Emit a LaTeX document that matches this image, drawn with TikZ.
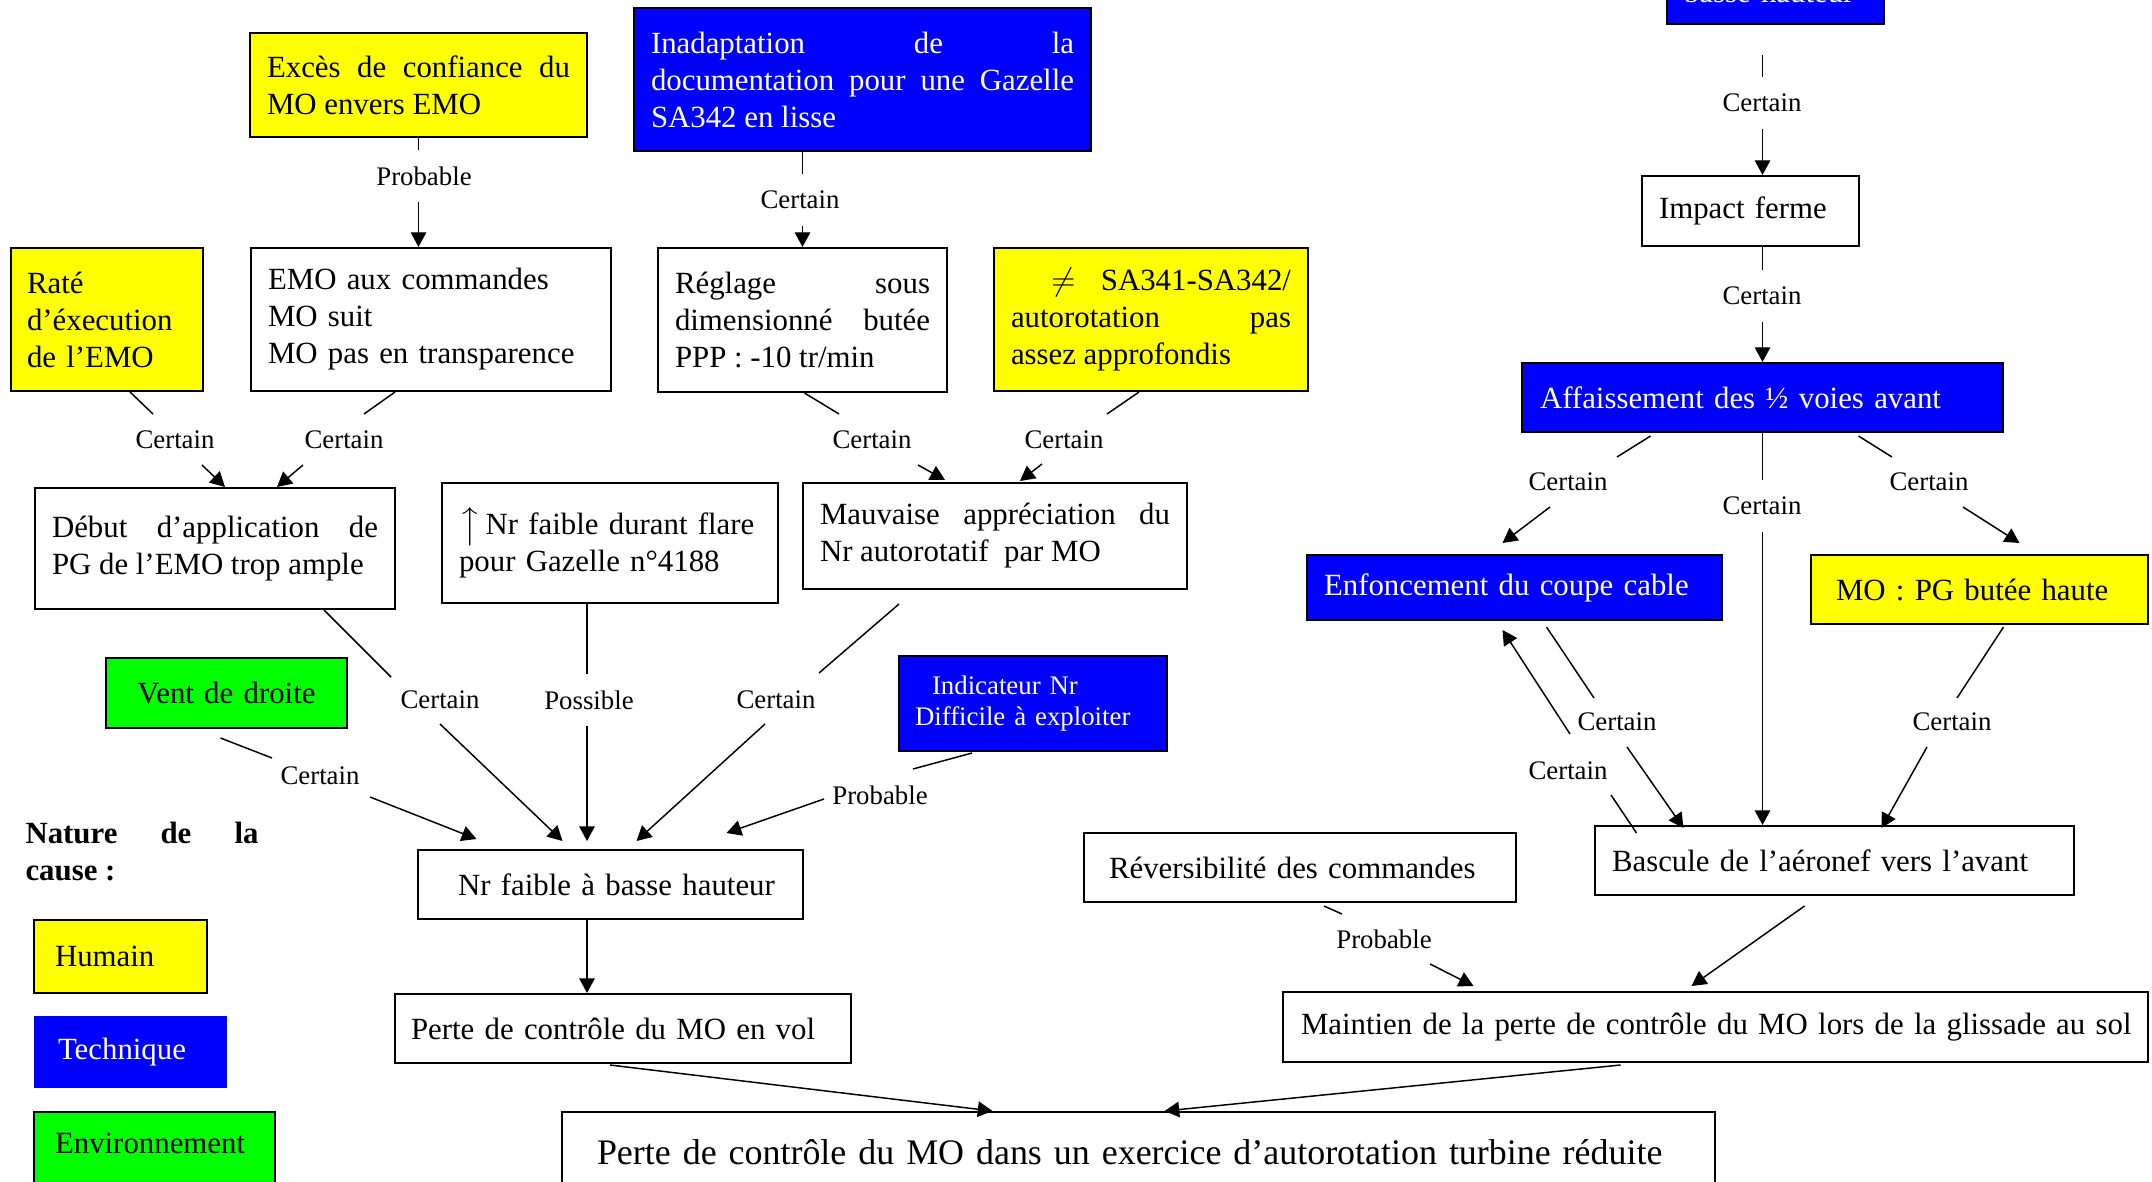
\documentclass[tikz,border=0pt]{standalone}
\usepackage{fontspec}
\setmainfont{Liberation Serif}
\usepackage{amsmath}
\usetikzlibrary{arrows.meta, calc}
\definecolor{CauseHuman}{RGB}{255,255,0}
\definecolor{CauseTech}{RGB}{0,0,255}
\definecolor{CauseEnv}{RGB}{0,255,0}
\newdimen\pxu \pxu=0.373pt
\hyphenpenalty=10000
\exhyphenpenalty=10000
\newcommand{\boxtxt}{\fontsize{11.5pt}{13.8pt}\selectfont}
\newcommand{\lbltxt}{\fontsize{10pt}{11.5pt}\selectfont}
\newcommand{\bigtxt}{\fontsize{13.4pt}{16pt}\selectfont}
\tikzset{
  causebox/.style={draw, line width=0.75pt, anchor=north west, inner ysep=0pt, font=\boxtxt, align=left},
  human/.style={causebox, fill=CauseHuman},
  tech/.style={causebox, fill=CauseTech, text=white},
  env/.style={causebox, fill=CauseEnv},
  lbl/.style={font=\lbltxt, inner xsep=2pt, inner ysep=6pt},
  link/.style={line width=0.55pt},
  arr/.style={link, -{Triangle[length=5.5pt, width=5.8pt]}}
}

\begin{document}
\begin{tikzpicture}[x=0.373pt, y=-0.373pt]
\useasboundingbox (0,0) rectangle (2152,1182);
\fill[white] (0,0) rectangle (2152,1182);
\clip (0,0) rectangle (2152,1182);

% Causes (left tree)
\node[human, text width=303\pxu, inner xsep=17\pxu, minimum height=104\pxu, align=justify] (exces) at (249,32) {Excès de confiance du\linebreak MO envers EMO};
\node[tech, text width=423\pxu, inner xsep=17\pxu, minimum height=143\pxu, align=justify] (inadapt) at (633,7) {Inadaptation de la\linebreak documentation pour une Gazelle\linebreak SA342 en lisse};
\node[human, text width=160\pxu, inner xsep=16\pxu, minimum height=143\pxu] (rate) at (10,247) {Raté\\d’éxecution\\de l’EMO};
\node[causebox, text width=326\pxu, inner xsep=17\pxu, minimum height=143\pxu] (emo) at (250,247) {EMO aux commandes\\MO suit\\MO pas en transparence};
\node[causebox, text width=255\pxu, inner xsep=17\pxu, minimum height=144\pxu, align=justify] (reglage) at (657,247) {Réglage sous\linebreak dimensionné butée\linebreak PPP : -10 tr/min};
\node[human, text width=280\pxu, inner xsep=17\pxu, minimum height=143\pxu, align=justify] (diff) at (993,247) {\hspace*{15pt}$\neq$\hfill SA341-SA342/\\autorotation\hfill pas\\assez approfondis};
\node[causebox, text width=326\pxu, inner xsep=17\pxu, minimum height=121\pxu, align=justify] (debut) at (34,487) {Début d’application de\linebreak PG de l’EMO trop ample};
\node[causebox, text width=302\pxu, inner xsep=17\pxu, minimum height=120\pxu] (nrflare) at (441,482) {$\big\uparrow$\,Nr faible durant flare\\pour Gazelle n°4188};
\node[causebox, text width=350\pxu, inner xsep=17\pxu, minimum height=106\pxu, align=justify] (mauvaise) at (802,482) {Mauvaise appréciation du\linebreak Nr autorotatif\ \ par MO};
\node[env, text width=207\pxu, inner xsep=17\pxu, minimum height=70\pxu, align=center] (vent) at (105,657) {Vent de droite};
\node[tech, font=\lbltxt, text width=236\pxu, inner xsep=16\pxu, minimum height=95\pxu] (indic) at (898,655) {\hspace*{17\pxu}Indicateur Nr\\Difficile à exploiter};
\node[causebox, text width=351\pxu, inner xsep=17\pxu, minimum height=69\pxu, align=center] (nrbasse) at (417,849) {\hspace*{12\pxu}Nr faible à basse hauteur};
\node[causebox, text width=424\pxu, inner xsep=16\pxu, minimum height=69\pxu] (pertevol) at (394,993) {Perte de contrôle du MO en vol};
\node[causebox, font=\bigtxt, text width=1093\pxu, inner xsep=30\pxu, minimum height=80\pxu] (final) at (561,1111) {\hspace*{5\pxu}Perte de contrôle du MO dans un exercice d’autorotation turbine réduite};

% Legend
\node[anchor=north west, inner sep=0pt, text width=233\pxu, align=justify, font=\boxtxt\bfseries] (nature) at (25,822) {Nature de la\linebreak cause :};
\node[human, text width=131\pxu, inner xsep=21\pxu, minimum height=73\pxu] (humain) at (33,919) {Humain};
\node[tech, draw=none, text width=145\pxu, inner xsep=24\pxu, minimum height=72\pxu] (technique) at (33,1015) {Technique};
\node[env, text width=199\pxu, inner xsep=21\pxu, text height=41\pxu, text depth=45\pxu] (environ) at (33,1111) {Environnement};

% Right tree
\node[tech, anchor=south west, text width=183\pxu, inner xsep=17\pxu, text height=64\pxu, text depth=21\pxu] (topbox) at (1666,25) {basse hauteur};
\node[causebox, text width=183\pxu, inner xsep=17\pxu, minimum height=70\pxu] (impact) at (1641,175) {Impact ferme};
\node[tech, text width=445\pxu, inner xsep=18\pxu, minimum height=69\pxu] (affaiss) at (1521,362) {Affaissement des ½ voies avant};
\node[tech, text width=381\pxu, inner xsep=17\pxu, minimum height=65\pxu] (enfonc) at (1306,554) {Enfoncement du coupe cable};
\node[human, text width=287\pxu, inner xsep=25\pxu, minimum height=69\pxu] (mopg) at (1810,554) {MO : PG butée haute};
\node[causebox, text width=445\pxu, inner xsep=17\pxu, minimum height=69\pxu] (bascule) at (1594,825) {Bascule de l’aéronef vers l’avant};
\node[causebox, text width=392\pxu, inner xsep=20\pxu, minimum height=69\pxu] (reversib) at (1083,832) {\hspace*{5\pxu}Réversibilité des commandes};
\node[causebox, text width=839\pxu, inner xsep=13\pxu, minimum height=70\pxu] (maintien) at (1282,991) {\hspace*{5\pxu}Maintien de la perte de contrôle du MO lors de la glissade au sol};

% Link labels
\node[lbl] (lA) at (424,176) {Probable};
\node[lbl] (lB) at (800,200) {Certain};
\node[lbl] (lC) at (175,440) {Certain};
\node[lbl] (lD) at (344,440) {Certain};
\node[lbl] (lE) at (872,440) {Certain};
\node[lbl] (lF) at (1064,440) {Certain};
\node[lbl] (lG) at (440,700) {Certain};
\node[lbl] (lH) at (589,700) {Possible};
\node[lbl] (lI) at (776,700) {Certain};
\node[lbl] (lJ) at (320,776) {Certain};
\node[lbl] (lK) at (880,795) {Probable};
\node[lbl] (lL) at (1384,939) {Probable};
\node[lbl] (lM) at (1762,103) {Certain};
\node[lbl] (lN) at (1762,296) {Certain};
\node[lbl] (lO) at (1568,482) {Certain};
\node[lbl] (lP) at (1762,506) {Certain};
\node[lbl] (lQ) at (1929,482) {Certain};
\node[lbl] (lR) at (1617,722) {Certain};
\node[lbl] (lS) at (1568,771) {Certain};
\node[lbl] (lT) at (1952,722) {Certain};

% Links, left tree
\draw[link] (exces.south) -- (exces.south |- lA.north);
\draw[arr] (exces.south |- lA.south) -- (exces.south |- emo.north);
\draw[link] (reglage.north |- inadapt.south) -- (reglage.north |- lB.north);
\draw[arr] (reglage.north |- lB.south) -- (reglage.north);
\draw[link] ($(rate.south)+(23,0)$) -- ($(lC)+(-22,-26)$);
\draw[arr] ($(lC)+(27,25)$) -- ($(debut.north)+(10,0)$);
\draw[link] ($(emo.south)+(-36,0)$) -- ($(lD)+(20,-26)$);
\draw[arr] ($(lD)+(-41,25)$) -- ($(debut.north)+(62,0)$);
\draw[link] ($(reglage.south)+(2,0)$) -- ($(lE)+(-33,-26)$);
\draw[arr] ($(lE)+(46,25)$) -- ($(mauvaise.north)+(-50,-2)$);
\draw[link] ($(diff.south)+(-12,0)$) -- ($(lF)+(43,-26)$);
\draw[arr] ($(lF)+(-22,24)$) -- ($(mauvaise.north)+(25,-1)$);
\draw[link] ($(debut.south)+(109,0)$) -- ($(lG)+(-49,-23)$);
\draw[arr] ($(lG)+(0,24)$) -- ($(nrbasse.north)+(-48,-8)$);
\draw[link] ($(nrflare.south)+(-23,0)$) coordinate (nrx) -- (nrx |- lH.north);
\draw[arr] (nrx |- lH.south) -- ($(nrx |- nrbasse.north)+(0,-8)$);
\draw[link] ($(mauvaise.south)+(-96,14)$) -- ($(lI)+(43,-27)$);
\draw[arr] ($(lI)+(-11,24)$) -- ($(nrbasse.north)+(26,-8)$);
\draw[link] ($(vent.south)+(-6,9)$) -- ($(lJ)+(-48,-18)$);
\draw[arr] ($(lJ)+(50,21)$) -- ($(nrbasse.north)+(-134,-10)$);
\draw[link] ($(indic.south)+(-61,1)$) -- ($(lK)+(33,-26)$);
\draw[arr] ($(lK)+(-56,4)$) -- ($(nrbasse.north)+(116,-16)$);
\draw[arr] (nrx |- nrbasse.south) -- (nrx |- pertevol.north);
\draw[arr] ($(pertevol.south)+(-13,1)$) -- ($(final.north)+(-146,0)$);

% Links, right tree
\draw[link] ($(affaiss.north |- topbox.south)+(0,30)$) -- (affaiss.north |- lM.north);
\draw[arr] (affaiss.north |- lM.south) -- (affaiss.north |- impact.north);
\draw[link] (affaiss.north |- impact.south) -- (affaiss.north |- lN.north);
\draw[arr] (affaiss.north |- lN.south) -- (affaiss.north);
\draw[link] (affaiss.south) -- (affaiss.south |- lP.north);
\draw[arr] (affaiss.south |- lP.south) -- (affaiss.south |- bascule.north);
\draw[link] ($(affaiss.south)+(-112,3)$) -- ($(lO)+(49,-25)$);
\draw[arr] ($(lO)+(-18,25)$) -- ($(enfonc.north)+(-12,-11)$);
\draw[link] ($(affaiss.south)+(96,3)$) -- ($(lQ)+(-37,-25)$);
\draw[arr] ($(lQ)+(34,25)$) -- ($(mopg.north)+(40,-11)$);
\draw[link] ($(enfonc.south)+(32,6)$) -- ($(lR)+(-23,-24)$);
\draw[arr] ($(lR)+(10,25)$) -- ($(bascule.north)+(-151,3)$);
\draw[link] ($(bascule.north)+(-198,8)$) -- ($(lS)+(43,24)$);
\draw[arr] ($(lS)+(2,-37)$) -- ($(enfonc.south)+(-12,9)$);
\draw[link] ($(mopg.south)+(24,2)$) -- ($(lT)+(5,-24)$);
\draw[arr] ($(lT)+(-25,25)$) -- ($(bascule.north)+(47,3)$);
\draw[link] ($(reversib.south)+(24,3)$) -- ($(lL)+(-42,-25)$);
\draw[arr] ($(lL)+(46,25)$) -- ($(maintien.north)+(-242,-5)$);
\draw[arr] ($(bascule.south)+(-30,10)$) -- ($(maintien.north)+(-24,-5)$);
\draw[arr] ($(maintien.south)+(-95,2)$) -- ($(final.north)+(26,0)$);
\end{tikzpicture}
\end{document}
